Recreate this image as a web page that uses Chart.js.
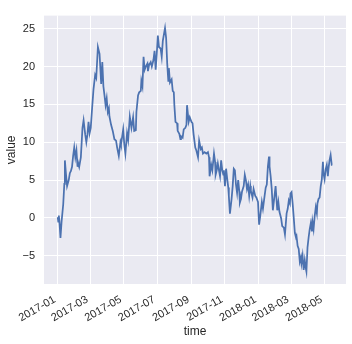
<!DOCTYPE html>
<html>
<head>
<meta charset="utf-8">
<script src="https://cdn.jsdelivr.net/npm/chart.js@4/dist/chart.umd.min.js"></script>
<style>
  body { margin: 0; background: #fff; }
  canvas { display: block; }
</style>
</head>
<body>
<canvas id="myChart" width="352" height="344"></canvas>
<script>
"use strict";

// days since 2017-01-01
const days = [0, 1, 2, 3, 5, 7, 10, 12, 13, 15, 17, 20, 22, 24, 26, 28, 30, 32, 34, 36, 37, 39, 42, 45, 47, 50, 52, 54, 56, 58, 60, 62, 65, 68, 70, 73, 76, 79, 81, 83, 85, 87, 89, 91, 93, 94, 97, 100, 103, 106, 108, 111, 114, 115, 119, 121, 123, 126, 128, 131, 134, 137, 139, 142, 143, 146, 148, 151, 152, 154, 156, 158, 160, 163, 164, 166, 169, 171, 174, 176, 178, 180, 182, 184, 187, 189, 191, 195, 197, 199, 201, 202, 204, 207, 209, 211, 212, 214, 217, 218, 221, 223, 224, 227, 229, 232, 234, 235, 238, 240, 243, 245, 247, 250, 252, 255, 257, 260, 262, 264, 267, 270, 273, 275, 276, 279, 281, 284, 286, 287, 289, 291, 293, 295, 297, 299, 301, 302, 304, 306, 308, 310, 311, 313, 316, 318, 320, 322, 324, 326, 328, 330, 331, 333, 335, 338, 340, 342, 344, 346, 348, 350, 351, 354, 356, 359, 361, 364, 366, 368, 371, 373, 376, 378, 380, 382, 384, 385, 387, 389, 391, 394, 396, 399, 401, 403, 406, 408, 411, 413, 416, 418, 420, 422, 423, 425, 427, 429, 431, 433, 434, 436, 438, 440, 442, 443, 445, 447, 449, 451, 452, 454, 456, 458, 460, 462, 463, 465, 467, 469, 471, 472, 474, 476, 478, 480, 482, 483, 485, 487, 489, 491, 492, 494, 496, 498, 499];

const values = [0.1, -0.5, 0.3, -0.4, -2.65, -0.5, 1.8, 4.5, 7.6, 5.8, 4.2, 5.0, 5.9, 6.2, 6.75, 8.2, 9.3, 8.0, 8.9, 6.75, 7.3, 6.75, 8.0, 11.9, 12.9, 11.0, 10.0, 11.0, 12.7, 11.2, 11.9, 14.0, 17.0, 18.9, 18.5, 22.6, 21.7, 17.7, 20.6, 17.4, 16.2, 14.9, 15.8, 14.0, 14.5, 13.4, 12.3, 11.5, 10.4, 10.2, 9.3, 8.2, 10.0, 9.7, 11.7, 9.7, 8.5, 11.2, 10.3, 13.4, 11.9, 13.3, 11.5, 11.6, 14.0, 16.2, 16.6, 16.8, 18.1, 17.4, 21.3, 19.6, 20.0, 20.4, 19.4, 20.2, 20.6, 20.0, 20.9, 22.1, 19.6, 21.7, 24.1, 22.6, 22.4, 21.3, 23.4, 25.1, 23.8, 20.4, 18.1, 19.8, 17.9, 18.3, 16.8, 16.6, 14.9, 12.7, 12.5, 11.5, 11.1, 10.4, 10.8, 10.6, 11.7, 11.9, 12.3, 14.9, 12.7, 13.3, 12.7, 12.5, 11.0, 9.3, 8.9, 8.0, 10.2, 9.1, 9.3, 8.5, 8.7, 8.5, 8.7, 8.0, 5.5, 7.0, 6.3, 8.5, 7.4, 5.7, 6.3, 7.2, 6.3, 5.5, 7.6, 6.3, 5.7, 6.3, 4.2, 6.5, 5.2, 4.0, 2.9, 0.55, 2.5, 4.2, 6.5, 6.3, 4.4, 3.3, 5.0, 3.5, 2.0, 2.5, 3.5, 4.2, 5.7, 5.0, 3.8, 4.4, 2.9, 4.2, 3.6, 2.7, 3.8, 2.9, 2.7, 2.1, -0.9, 0.2, 2.1, 1.2, 2.9, 4.0, 4.4, 6.8, 8.1, 6.8, 5.5, 3.8, 1.0, 2.9, 4.2, 1.0, 2.1, 0.8, -0.05, -1.1, -1.3, -2.2, 0.6, 1.2, 2.3, 1.9, 3.2, 3.4, 1.9, 0.0, -2.0, -2.6, -2.4, -3.7, -4.1, -5.8, -5.2, -6.0, -5.0, -6.9, -5.6, -6.7, -7.1, -3.9, -2.6, -1.5, -0.7, -1.8, -0.5, -1.5, 0.2, 1.4, 0.6, 1.9, 2.5, 2.7, 4.2, 5.1, 7.4, 5.9, 5.1, 6.4, 7.0, 5.5, 6.4, 7.6, 8.3, 7.0, 7.0];

const tickMonths = [[2017, 0], [2017, 2], [2017, 4], [2017, 6], [2017, 8], [2017, 10], [2018, 0], [2018, 2], [2018, 4]];
const tickLabels = ['2017-01', '2017-03', '2017-05', '2017-07', '2017-09', '2017-11', '2018-01', '2018-03', '2018-05'];
const yTicks = [-5, 0, 5, 10, 15, 20, 25];

const DAY = 86400000;
const t0 = Date.UTC(2017, 0, 1);
const tickDays = tickMonths.map(([y, m]) => (Date.UTC(y, m, 1) - t0) / DAY);

const textColor = '#262626';
const fontFamily = "'Liberation Sans', Arial, sans-serif";

const bgPlugin = {
    id: 'plotBg',
    beforeDraw(chart) {
        const { ctx, chartArea } = chart;
        ctx.save();
        ctx.fillStyle = '#EAEAF2';
        ctx.fillRect(chartArea.left, chartArea.top, chartArea.right - chartArea.left, chartArea.bottom - chartArea.top);
        ctx.restore();
    }
};

const ctx = document.getElementById('myChart');

new Chart(ctx, {
    type: 'line',
    data: {
        datasets: [{
            data: days.map((d, i) => ({ x: d, y: values[i] })),
            borderColor: '#4C72B0',
            borderWidth: 1.75,
            pointRadius: 0,
            tension: 0,
            fill: false
        }]
    },
    options: {
        responsive: false,
        animation: false,
        devicePixelRatio: 1,
        layout: {
            padding: { top: 7, right: 6, left: 0, bottom: 0 }
        },
        plugins: {
            legend: { display: false },
            tooltip: { enabled: false }
        },
        scales: {
            x: {
                type: 'linear',
                min: -24.95,
                max: 523.95,
                afterBuildTicks(scale) {
                    scale.ticks = tickDays.map(v => ({ value: v }));
                },
                afterFit(scale) {
                    scale.height = 60;
                    scale.paddingLeft = 0;
                    scale.paddingRight = 0;
                },
                border: { display: false },
                grid: { color: '#ffffff', lineWidth: 1, drawTicks: false },
                ticks: {
                    autoSkip: false,
                    maxRotation: 30,
                    minRotation: 30,
                    padding: 9,
                    labelOffset: -3,
                    color: textColor,
                    font: { family: fontFamily, size: 11 },
                    callback: (value, index) => tickLabels[index]
                },
                title: {
                    display: true,
                    text: 'time',
                    color: textColor,
                    font: { family: fontFamily, size: 12 },
                    padding: { top: 0, bottom: 5 }
                }
            },
            y: {
                min: -8.75,
                max: 26.75,
                afterBuildTicks(scale) {
                    scale.ticks = yTicks.map(v => ({ value: v }));
                },
                afterFit(scale) {
                    scale.width = 44;
                },
                border: { display: false },
                grid: { color: '#ffffff', lineWidth: 1, drawTicks: false },
                ticks: {
                    padding: 9,
                    color: textColor,
                    font: { family: fontFamily, size: 11 },
                    callback: (value) => String(value).replace('-', '\u2212')
                },
                title: {
                    display: true,
                    text: 'value',
                    color: textColor,
                    font: { family: fontFamily, size: 12 },
                    padding: { top: 4, bottom: 0 }
                }
            }
        }
    },
    plugins: [bgPlugin]
});
</script>
</body>
</html>
